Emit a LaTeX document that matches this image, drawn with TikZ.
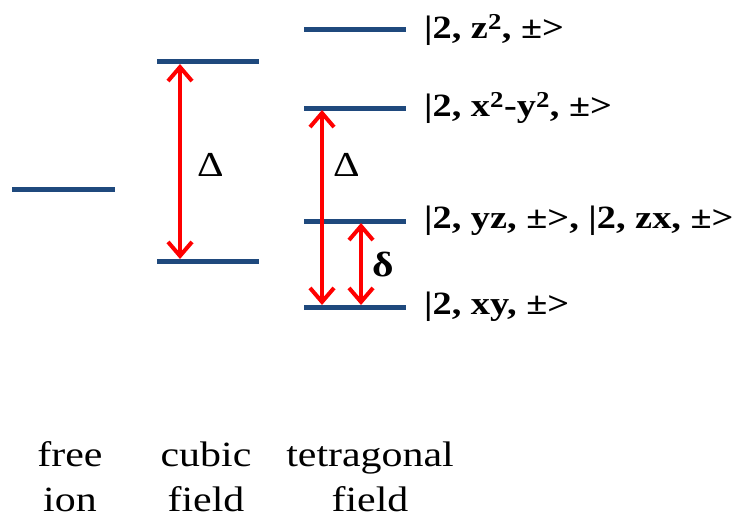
\documentclass[tikz,border=0pt]{standalone}
\usepackage{fontspec}
\setmainfont{Liberation Serif}[FakeStretch=1.18]
\usetikzlibrary{arrows.meta}
\definecolor{levelblue}{RGB}{31,73,125}

\begin{document}
\begin{tikzpicture}[
    x=1pt, y=-1pt,
    >={Straight Barb[length=14pt, width=24pt, line width=4pt]},
    every node/.style={inner sep=0pt, font=\fontsize{35}{40}\selectfont},
    level/.style={levelblue, line width=5pt},
    split/.style={<->, red, line width=4pt, line cap=round},
    state/.style={anchor=west, font=\fontsize{32.5}{40}\selectfont\bfseries},
    caption/.style={anchor=base, font=\fontsize{35.5}{40}\selectfont},
]
\useasboundingbox (0,0) rectangle (736,519);
% levels: free ion, cubic field, tetragonal field
\draw[level] (12,189) -- (115,189);
\draw[level] (157,62) -- (259,62);
\draw[level] (157,261) -- (259,261);
\draw[level] (304,30) -- (406,30);
\draw[level] (304,108) -- (406,108);
\draw[level] (304,221) -- (406,221);
\draw[level] (304,307) -- (406,307);
% arrow ends on the levels
\coordinate (cubtop) at (180,64);
\coordinate (cubbot) at (180,259);
\coordinate (tetup) at (322,110);
\coordinate (tetlow) at (322,305);
\coordinate (yzlev) at (361,223);
\coordinate (xylev) at (361,305);
% splittings
\draw[split] (cubtop) -- node[pos=0.52, right=15pt, black] {Δ} (cubbot);
\draw[split] (tetup) -- node[pos=0.28, right=9pt, black] {Δ} (tetlow);
\draw[split] (yzlev) -- node[pos=0.51, right=9pt, black, font=\fontsize{35}{40}\selectfont\bfseries] {δ} (xylev);
% states
\node[state] (zz) at (424,30) {|2, z\textsuperscript{2}, ±>};
\node[state] (xy2) at (424,108) {|2, x\textsuperscript{2}-y\textsuperscript{2}, ±>};
\node[state] (yzzx) at (424,221) {|2, yz, ±>, |2, zx, ±>};
\node[state] (xy) at (424,307) {|2, xy, ±>};
% bottom captions
\node[caption] (free) at (70,466) {free};
\node[caption] (ion) at (70,511) {ion};
\node[caption] (cubic) at (206,466) {cubic};
\node[caption] (cubfield) at (206,511) {field};
\node[caption] (tetra) at (370,466) {tetragonal};
\node[caption] (tetfield) at (370,511) {field};
\end{tikzpicture}
\end{document}
